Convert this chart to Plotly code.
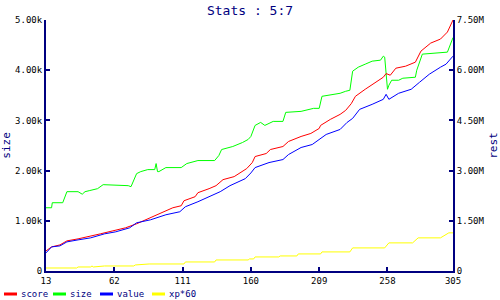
import plotly.graph_objects as go

# ---- data ----
size_x = [13, 17, 17.5, 25, 28, 36, 39, 41, 44, 50, 54, 72, 74, 76, 78, 81, 86, 91, 92, 93, 94, 99, 110, 114,
          122, 134, 137, 139, 147, 154, 158, 160, 163, 167, 170, 176, 183, 185, 196, 205, 209, 211, 224, 228,
          231, 233, 237, 242, 247, 253, 255, 256, 258, 259, 261, 266, 269, 278, 279, 283, 294, 301, 305]
size_y = [1260, 1260, 1360, 1360, 1580, 1580, 1530, 1580, 1600, 1640, 1720, 1700, 1680, 1820, 1940, 1980, 2020,
          2020, 2140, 1980, 1980, 2060, 2060, 2140, 2200, 2200, 2300, 2420, 2480, 2560, 2620, 2680, 2900, 2960,
          2900, 2980, 2980, 3160, 3180, 3240, 3240, 3480, 3540, 3580, 3600, 3980, 4060, 4120, 4180, 4200, 4280,
          4260, 3620, 3700, 3800, 3800, 3840, 3860, 4000, 4320, 4340, 4360, 4650]

score_x = [13, 17, 23, 28, 36, 43, 52, 61, 70, 78, 88, 95, 104, 110, 112, 120, 122, 130, 135, 140, 148, 157, 161,
           163, 171, 174, 183, 187, 196, 203, 209, 210, 217, 224, 228, 232, 235, 242, 250, 255, 257, 260, 264,
           271, 278, 282, 289, 296, 301, 305]
score_y = [0.60, 0.72, 0.78, 0.90, 0.96, 1.02, 1.11, 1.20, 1.29, 1.41, 1.59, 1.74, 1.89, 1.95, 2.10, 2.22, 2.34,
           2.46, 2.55, 2.73, 2.82, 3.06, 3.24, 3.42, 3.51, 3.63, 3.72, 3.87, 4.02, 4.11, 4.26, 4.35, 4.53, 4.68,
           4.80, 5.00, 5.22, 5.43, 5.64, 5.79, 5.90, 5.85, 6.06, 6.12, 6.24, 6.57, 6.81, 6.93, 7.14, 7.50]

value_x = [13, 17, 23, 28, 36, 45, 55, 63, 73, 78, 88, 99, 109, 113, 122, 131, 138, 145, 156, 160, 163, 173, 183,
           187, 196, 204, 209, 214, 224, 229, 233, 238, 247, 255, 257, 259, 266, 275, 281, 288, 296, 300, 305]
value_y = [0.54, 0.72, 0.75, 0.87, 0.93, 0.99, 1.11, 1.17, 1.29, 1.44, 1.53, 1.68, 1.77, 1.92, 2.07, 2.25, 2.37,
           2.55, 2.76, 2.93, 3.09, 3.24, 3.33, 3.48, 3.69, 3.78, 3.93, 4.08, 4.23, 4.44, 4.56, 4.83, 4.98, 5.13,
           5.28, 5.13, 5.31, 5.43, 5.64, 5.88, 6.09, 6.18, 6.42]

xp_x = [13, 35, 36, 45, 46, 47, 55, 76, 77, 87, 112, 113, 134, 135, 158, 159, 162, 163, 180, 181, 193, 194, 210,
        211, 231, 233, 256, 259, 276, 280, 296, 302, 305]
xp_y = [0.09, 0.09, 0.12, 0.12, 0.15, 0.12, 0.15, 0.15, 0.18, 0.21, 0.21, 0.27, 0.27, 0.33, 0.33, 0.36, 0.36,
        0.42, 0.42, 0.45, 0.45, 0.51, 0.51, 0.57, 0.57, 0.69, 0.69, 0.84, 0.84, 0.99, 0.99, 1.14, 1.14]

series_names = ["score", "size", "value", "xp*60"]
series_colors = ["#ff0000", "#00ff00", "#0000ff", "#ffff00"]

x_ticks = [13, 62, 111, 160, 209, 258, 305]
left_ticks = [0, 1000, 2000, 3000, 4000, 5000]
left_labels = ["0", "1.00k", "2.00k", "3.00k", "4.00k", "5.00k"]
right_ticks = [0, 1.5, 3.0, 4.5, 6.0, 7.5]
right_labels = ["0", "1.50M", "3.00M", "4.50M", "6.00M", "7.50M"]

NAVY = "#000080"
MONO = "DejaVu Sans Mono"

# plot-area geometry in pixels (for the hand-placed legend)
L, R, T, B, W, H = 46, 47, 20, 29, 500, 300
PW, PH = W - L - R, H - T - B

fig = go.Figure()
xs = [score_x, size_x, value_x, xp_x]
ys = [score_y, size_y, value_y, xp_y]
axes = ["y2", "y", "y2", "y2"]
for name, col, x, y, ax in zip(series_names, series_colors, xs, ys, axes):
    fig.add_trace(go.Scatter(x=x, y=y, name=name, mode="lines", showlegend=False,
                             line=dict(color=col, width=1), yaxis=ax))

axis_common = dict(showgrid=False, zeroline=False, showline=True, linecolor=NAVY, linewidth=2,
                   ticks="inside", ticklen=4, tickcolor=NAVY, tickwidth=2, automargin=False,
                   tickfont=dict(family=MONO, size=9, color="#000000"))

# legend drawn as line samples + text, laid out like the reference
legend_line_px = [4, 53, 100, 152]
legend_y_px = 294
for name, col, lx in zip(series_names, series_colors, legend_line_px):
    fig.add_shape(type="line", xref="paper", yref="paper",
                  x0=(lx - L) / PW, x1=(lx + 13 - L) / PW,
                  y0=(H - B - legend_y_px) / PH, y1=(H - B - legend_y_px) / PH,
                  line=dict(color=col, width=3))
    fig.add_annotation(text=name, xref="paper", yref="paper", showarrow=False,
                       x=(lx + 15 - L) / PW, xanchor="left",
                       y=(H - B - legend_y_px) / PH, yanchor="middle",
                       font=dict(family=MONO, size=9, color=NAVY))

fig.update_layout(
    width=W, height=H,
    margin=dict(l=L, r=R, t=T, b=B, autoexpand=False),
    paper_bgcolor="white", plot_bgcolor="white",
    title=dict(text="Stats : 5:7", x=0.5, xanchor="center", y=0.965, yanchor="middle",
               font=dict(family=MONO, size=13, color=NAVY)),
    xaxis=dict(range=[13, 305], tickvals=x_ticks, ticktext=[str(t) for t in x_ticks], **axis_common),
    yaxis=dict(range=[0, 5000], tickvals=left_ticks, ticktext=left_labels,
               title=dict(text="size", font=dict(family=MONO, size=11, color=NAVY), standoff=6),
               **axis_common),
    yaxis2=dict(range=[0, 7.5], tickvals=right_ticks, ticktext=right_labels, overlaying="y", side="right",
                title=dict(text="rest", font=dict(family=MONO, size=11, color=NAVY), standoff=6),
                **axis_common),
    showlegend=False,
)

fig.write_html("out.html")
